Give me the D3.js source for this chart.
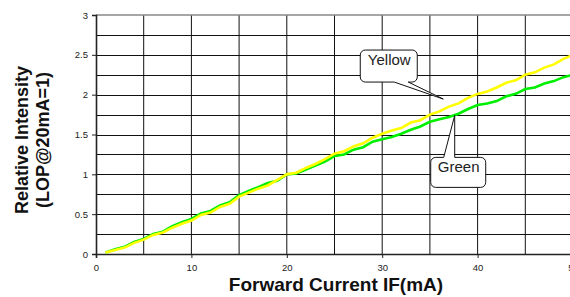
<!DOCTYPE html>
<html>
<head>
<meta charset="utf-8">
<script src="https://cdn.jsdelivr.net/npm/d3@7"></script>
<style>
  html, body { margin: 0; padding: 0; background: #fff; }
  svg { display: block; font-family: "Liberation Sans", Arial, sans-serif; }
</style>
</head>
<body>
<svg id="chart" width="570" height="297"></svg>
<script>
// forward current (mA)
const current = d3.range(1, 51);

// relative intensity, one value per mA
const yellow = [
  0.02, 0.05, 0.08, 0.14, 0.18, 0.24, 0.27, 0.33, 0.38, 0.42,
  0.49, 0.52, 0.59, 0.63, 0.72, 0.77, 0.82, 0.86, 0.93, 1.00,
  1.02, 1.08, 1.13, 1.19, 1.26, 1.29, 1.35, 1.39, 1.46, 1.51,
  1.55, 1.58, 1.65, 1.68, 1.75, 1.79, 1.85, 1.89, 1.96, 2.01,
  2.04, 2.09, 2.15, 2.18, 2.25, 2.28, 2.34, 2.38, 2.45, 2.50
];
const green = [
  0.02, 0.06, 0.09, 0.15, 0.19, 0.25, 0.28, 0.35, 0.40, 0.44,
  0.51, 0.54, 0.61, 0.65, 0.74, 0.79, 0.84, 0.89, 0.92, 1.00,
  1.01, 1.06, 1.11, 1.16, 1.23, 1.25, 1.31, 1.34, 1.41, 1.44,
  1.47, 1.51, 1.56, 1.60, 1.66, 1.69, 1.72, 1.76, 1.82, 1.87,
  1.89, 1.92, 1.98, 2.01, 2.07, 2.09, 2.14, 2.17, 2.22, 2.25
];

const xTicks = [0, 10, 20, 30, 40, 50];
const yTicks = [0, 0.5, 1, 1.5, 2, 2.5, 3];
const xGrid = [5, 10, 15, 20, 25, 30, 35, 40, 45];
const yGrid = [0.25, 0.5, 0.75, 1, 1.25, 1.5, 1.75, 2, 2.25, 2.5, 2.75];

// callouts: label, data point the pointer hits
const callouts = [
  { label: "Yellow", x: 36.4, y: 1.945 },
  { label: "Green", x: 37.6, y: 1.74 }
];

const svg = d3.select("#chart");
const x = d3.scaleLinear().domain([0, 50]).range([96, 573]);
const y = d3.scaleLinear().domain([0, 3]).range([254, 15]);

// grid
svg.append("g").selectAll("line").data(yGrid).join("line")
  .attr("x1", x(0)).attr("x2", x(50))
  .attr("y1", d => Math.round(y(d)) + 0.5).attr("y2", d => Math.round(y(d)) + 0.5)
  .attr("stroke", "#111").attr("stroke-width", 1);
svg.append("g").selectAll("line").data(xGrid).join("line")
  .attr("x1", d => x(d)).attr("x2", d => x(d))
  .attr("y1", y(0)).attr("y2", y(3))
  .attr("stroke", "#111").attr("stroke-width", 1);

// top border
svg.append("line")
  .attr("x1", x(0)).attr("x2", x(50))
  .attr("y1", y(3)).attr("y2", y(3))
  .attr("stroke", "#888").attr("stroke-width", 1.5);

// axes
const yAxis = svg.append("g")
  .attr("transform", `translate(${x(0)},0)`)
  .call(d3.axisLeft(y).tickValues(yTicks).tickFormat(d3.format("")).tickSize(4).tickPadding(4));
const xAxis = svg.append("g")
  .attr("transform", `translate(0,${y(0)})`)
  .call(d3.axisBottom(x).tickValues(xTicks).tickFormat(d3.format("d")).tickSize(4).tickPadding(6));
[xAxis, yAxis].forEach(a => {
  a.select(".domain").attr("stroke", "#222").attr("stroke-width", 1.6);
  a.selectAll(".tick line").attr("stroke", "#222");
  a.selectAll(".tick text").attr("fill", "#222").style("font-size", "9.5px")
    .style("font-family", "'Liberation Sans', Arial, sans-serif");
});

// series
const line = d3.line().x((d, i) => x(current[i])).y(d => y(d));
svg.append("path").datum(green).attr("d", line)
  .attr("fill", "none").attr("stroke", "#00ee00").attr("stroke-width", 2.6);
svg.append("path").datum(yellow).attr("d", line)
  .attr("fill", "none").attr("stroke", "#ffff00").attr("stroke-width", 2.6);

// callout shapes (rounded box + wedge pointing at the curve)
function calloutPath(bx, by, w, h, r, tipX, tipY, baseA, baseB, onTop) {
  const p = d3.path();
  p.moveTo(bx + r, by);
  if (onTop) { p.lineTo(baseA, by); p.lineTo(tipX, tipY); p.lineTo(baseB, by); }
  p.lineTo(bx + w - r, by);
  p.arcTo(bx + w, by, bx + w, by + r, r);
  p.lineTo(bx + w, by + h - r);
  p.arcTo(bx + w, by + h, bx + w - r, by + h, r);
  if (!onTop) { p.lineTo(baseB, by + h); p.lineTo(tipX, tipY); p.lineTo(baseA, by + h); }
  p.lineTo(bx + r, by + h);
  p.arcTo(bx, by + h, bx, by + h - r, r);
  p.lineTo(bx, by + r);
  p.arcTo(bx, by, bx + r, by, r);
  p.closePath();
  return p.toString();
}

const cy = callouts[0], cg = callouts[1];
const yTip = [x(cy.x), y(cy.y)];
const gTip = [x(cg.x), y(cg.y)];

svg.append("path")
  .attr("d", calloutPath(yTip[0] - 83, yTip[1] - 49, 57, 32, 5, yTip[0], yTip[1], yTip[0] - 49, yTip[0] - 35, false))
  .attr("fill", "#fff").attr("stroke", "#111").attr("stroke-width", 1);
svg.append("text").attr("x", yTip[0] - 54).attr("y", yTip[1] - 34)
  .attr("text-anchor", "middle")
  .attr("font-size", 15).attr("fill", "#222").text(cy.label);

svg.append("path")
  .attr("d", calloutPath(gTip[0] - 24, gTip[1] + 42, 55, 30, 5, gTip[0], gTip[1], gTip[0] - 11, gTip[0], true))
  .attr("fill", "#fff").attr("stroke", "#111").attr("stroke-width", 1);
svg.append("text").attr("x", gTip[0] + 4).attr("y", gTip[1] + 57)
  .attr("text-anchor", "middle")
  .attr("font-size", 15).attr("fill", "#222").text(cg.label);

// titles
svg.append("text")
  .attr("x", 336).attr("y", 291)
  .attr("text-anchor", "middle").attr("font-size", 19).attr("font-weight", "bold")
  .attr("fill", "#111").text("Forward Current IF(mA)");
svg.append("text")
  .attr("transform", "translate(28,140) rotate(-90)")
  .attr("text-anchor", "middle").attr("font-size", 18).attr("font-weight", "bold")
  .attr("fill", "#111").text("Relative Intensity");
svg.append("text")
  .attr("transform", "translate(48.5,140) rotate(-90)")
  .attr("text-anchor", "middle").attr("font-size", 18).attr("font-weight", "bold")
  .attr("fill", "#111").text("(LOP@20mA=1)");
</script>
</body>
</html>
